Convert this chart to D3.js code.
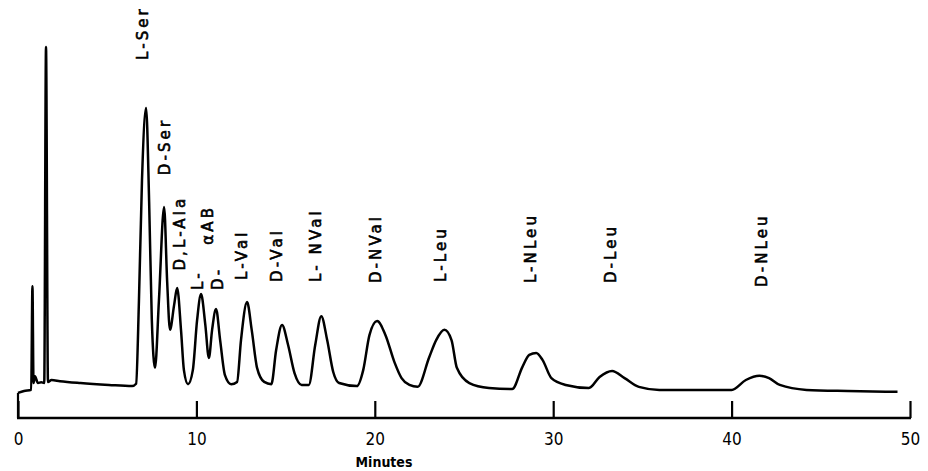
<!DOCTYPE html>
<html>
<head>
<meta charset="utf-8">
<script src="https://cdn.jsdelivr.net/npm/d3@7"></script>
<style>
  body { margin: 0; background: #fff; }
  svg { display: block; }
  .lbl { font-family: "DejaVu Sans", sans-serif; font-size: 15px; letter-spacing: 3.1px; fill: #000; stroke: #000; stroke-width: 0.6px; }
  .tick text { font-family: "DejaVu Sans Condensed", "DejaVu Sans", sans-serif; font-size: 17px; }
</style>
</head>
<body>
<div id="chart"></div>
<script>
// detector trace: [minutes, relative response]
let traceTime = [0, 0.34, 0.74, 0.81, 0.87, 0.95, 1.12, 1.3, 1.47, 1.57, 1.68, 1.88, 2.35, 3.5, 5.1, 6.4, 6.62,
  6.78, 6.95, 7.18, 7.35, 7.5, 7.68, 7.9, 8.19, 8.36, 8.52, 8.75, 8.92, 9.14, 9.3, 9.53,
  9.8, 10.04, 10.26, 10.5, 10.7, 10.88, 11.1, 11.33, 11.6, 11.95, 12.28, 12.5, 12.84, 13.1, 13.4, 13.8, 14.2,
  14.47, 14.8, 15.14, 15.5, 15.9, 16.3, 16.66, 17.0, 17.33, 17.67, 18.0, 19.0,
  19.35, 19.7, 20.13, 20.6, 21.1, 21.5, 21.94, 22.4, 23.05, 23.44, 23.9, 24.3, 24.6, 25.3, 26.4, 27.7,
  28.27, 28.66, 29.05, 29.4, 29.9, 30.7, 32.0, 32.6, 33.3, 34.0, 34.8, 35.95, 38.0, 40.0,
  40.8, 41.56, 42.1, 42.7, 44.2, 46.5, 49.3];
let traceSignal = [6.6, 7.1, 7.4, 34.7, 9.2, 11, 9.2, 9.4, 9.2, 97.6, 9.5, 10, 9.7, 9.2, 8.7, 8.4, 9.0,
  31, 62.6, 81.6, 57, 26, 13.2, 31, 55.5, 36, 23.2, 29.7, 34.2, 23, 12.6, 8.9,
  12.6, 25.8, 32.6, 24.5, 15.8, 23.2, 28.7, 20.5, 11.3, 8.9, 9.5, 20.5, 30.5, 23.2, 13.2, 9.5, 8.9,
  17.9, 24.5, 19.2, 11.8, 8.7, 8.7, 19.2, 26.8, 20.5, 12.1, 9.2, 8.4,
  12.6, 21.8, 25.5, 21.8, 14.7, 10.5, 8.7, 8.2, 16, 20.5, 23.2, 20.5, 13.2, 9.2, 7.9, 7.6,
  13.4, 16.6, 17.1, 15.3, 10.5, 8.7, 7.9, 10.8, 12.4, 10.5, 8.2, 7.4, 7.4, 7.4,
  10, 11.1, 10.5, 8.7, 7.4, 7.1, 6.9];

// peak labels: name, minutes, response where the text starts
let peakNames = ["L-Ser", "D-Ser", "D,L-Ala", "L-", "\u03b1AB", "D-", "L-Val", "D-Val", "L- NVal", "D-NVal", "L-Leu", "L-NLeu", "D-Leu", "D-NLeu"];
let peakTime = [7.0, 8.24, 9.07, 10.05, 10.61, 11.17, 12.56, 14.5, 16.68, 20.05, 23.67, 28.72, 33.2, 41.68];
let peakStart = [94.2, 63.9, 38.8, 33.7, 45.6, 33.7, 36.3, 35.8, 35.8, 35.5, 35.8, 35.5, 35.5, 34.5];

let tickValues = [0, 10, 20, 30, 40, 50];
let xTitle = "Minutes";

let width = 928;
let height = 471;

let x = d3.scaleLinear().domain([0, 50]).range([18, 910]);
let y = d3.scaleLinear().domain([0, 100]).range([418, 38]);

let svg = d3.select("#chart")
	.append("svg")
	.attr("width", width)
	.attr("height", height);

let trace = traceTime.map((t, i) => [t, traceSignal[i]]);

let line = d3.line()
	.x(d => x(d[0]))
	.y(d => y(d[1]))
	.curve(d3.curveMonotoneX);

svg.append("path")
	.datum(trace)
	.attr("d", line)
	.attr("fill", "none")
	.attr("stroke", "#000")
	.attr("stroke-width", 2.5)
	.attr("stroke-linejoin", "round");

// axis with ticks pointing up
let axis = d3.axisBottom(x)
	.tickValues(tickValues)
	.tickSizeInner(-17)
	.tickSizeOuter(0)
	.tickPadding(25)
	.tickFormat(d3.format("d"));

let gx = svg.append("g")
	.attr("class", "tick-axis")
	.attr("transform", `translate(0,${y(0)})`)
	.call(axis);

gx.select(".domain").attr("stroke-width", 2.6).attr("d", `M${x(0) - 1},0H${x(50) + 1}`);
gx.selectAll(".tick line").attr("stroke-width", 2.2);
gx.selectAll(".tick text").attr("fill", "#000").attr("dy", "0.1em");

// left end runs up to where the pen started
svg.append("line")
	.attr("x1", x(0)).attr("x2", x(0))
	.attr("y1", y(0)).attr("y2", y(traceSignal[0]))
	.attr("stroke", "#000")
	.attr("stroke-width", 2.2);

svg.append("text")
	.attr("x", 384)
	.attr("y", 467)
	.attr("text-anchor", "middle")
	.style("font-family", "'DejaVu Sans Condensed', 'DejaVu Sans', sans-serif")
	.style("font-size", "14px")
	.style("font-weight", "bold")
	.text(xTitle);

svg.selectAll(".lbl")
	.data(peakNames)
	.enter().append("text")
	.attr("class", "lbl")
	.attr("transform", (d, i) => `translate(${x(peakTime[i])},${y(peakStart[i])}) rotate(-90)`)
	.attr("dy", "0.36em")
	.text(d => d);
</script>
</body>
</html>
